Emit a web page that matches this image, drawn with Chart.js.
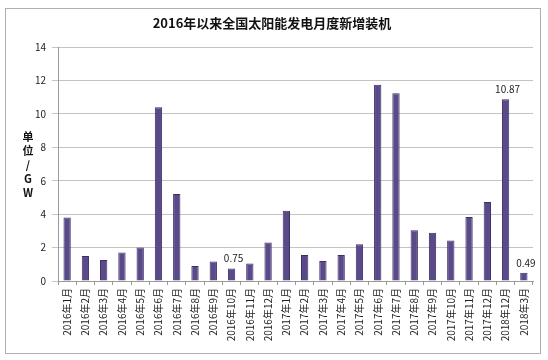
<!DOCTYPE html>
<html>
<head>
<meta charset="utf-8">
<script src="https://cdn.jsdelivr.net/npm/chart.js@4.4.0/dist/chart.umd.min.js"></script>
<style>
  html, body { margin: 0; padding: 0; background: #fff; }
  #wrap { width: 548px; height: 360px; position: relative; }
</style>
</head>
<body>
<div id="wrap"><canvas id="chart" width="548" height="360"></canvas></div>
<script>
// ------------------------
// Data
// ------------------------
const months = [
    '2016年1月', '2016年2月', '2016年3月', '2016年4月', '2016年5月', '2016年6月',
    '2016年7月', '2016年8月', '2016年9月', '2016年10月', '2016年11月', '2016年12月',
    '2017年1月', '2017年2月', '2017年3月', '2017年4月', '2017年5月', '2017年6月',
    '2017年7月', '2017年8月', '2017年9月', '2017年10月', '2017年11月', '2017年12月',
    '2018年12月', '2018年3月'
];
const newCapacity = [
    3.8, 1.5, 1.25, 1.7, 2.0, 10.4, 5.2, 0.9, 1.17, 0.75, 1.05, 2.3,
    4.2, 1.55, 1.2, 1.55, 2.2, 11.74, 11.24, 3.03, 2.88, 2.43, 3.83, 4.72,
    10.87, 0.49
];
const labelledBars = [9, 24, 25];
const yTicks = [0, 2, 4, 6, 8, 10, 12, 14];

const CJK = '"Noto Sans CJK SC", "Noto Sans", sans-serif';

// ------------------------
// Plugins: frame, title, y-axis caption, value labels
// ------------------------
const decor = {
    id: 'decor',
    beforeDraw(chart) {
        const { ctx } = chart;
        ctx.save();
        ctx.fillStyle = '#fff';
        ctx.fillRect(0, 0, chart.width, chart.height);
        ctx.strokeStyle = '#b0b0b0';
        ctx.lineWidth = 1;
        ctx.strokeRect(5.5, 8.5, 535, 345);
        ctx.restore();
    },
    afterDraw(chart) {
        const { ctx } = chart;
        ctx.save();
        ctx.fillStyle = '#111';
        ctx.textAlign = 'center';
        ctx.textBaseline = 'middle';
        ctx.font = `bold 13px ${CJK}`;
        ctx.fillText('2016年以来全国太阳能发电月度新增装机', 272, 23);

        ctx.font = `bold 11px ${CJK}`;
        ['单', '位', '/', 'G', 'W'].forEach((ch, i) => {
            ctx.fillText(ch, 28, 137 + i * 14);
        });

        ctx.font = `10px ${CJK}`;
        ctx.fillStyle = '#222';
        ctx.textBaseline = 'bottom';
        const meta = chart.getDatasetMeta(0);
        labelledBars.forEach(i => {
            const bar = meta.data[i];
            ctx.fillText(newCapacity[i].toString(), bar.x + 2, bar.y - 5);
        });
        ctx.restore();
    }
};

new Chart(document.getElementById('chart'), {
    type: 'bar',
    data: {
        labels: months,
        datasets: [{
            data: newCapacity,
            backgroundColor: '#5b4a89',
            borderColor: '#3d2f66',
            borderWidth: 1,
            borderSkipped: 'bottom',
            categoryPercentage: 1,
            barPercentage: 0.4
        }]
    },
    options: {
        responsive: false,
        animation: false,
        layout: { padding: { top: 47, right: 15, left: 0, bottom: 0 } },
        plugins: {
            legend: { display: false },
            tooltip: { enabled: false }
        },
        scales: {
            x: {
                offset: true,
                grid: {
                    offset: true,
                    drawOnChartArea: false,
                    drawTicks: true,
                    tickLength: 4,
                    color: '#9a9a9a'
                },
                border: { color: '#9a9a9a' },
                ticks: {
                    minRotation: 90,
                    maxRotation: 90,
                    autoSkip: false,
                    padding: 3,
                    color: '#222',
                    font: { size: 10, family: CJK }
                },
                afterFit: s => { s.height = 79; }
            },
            y: {
                min: 0,
                max: 14,
                afterBuildTicks: s => { s.ticks = yTicks.map(v => ({ value: v })); },
                grid: {
                    color: '#c4c4c4',
                    tickLength: 6
                },
                border: { color: '#9a9a9a' },
                ticks: {
                    padding: 6,
                    color: '#222',
                    font: { size: 10, family: CJK }
                },
                afterFit: s => { s.width = 58; }
            }
        }
    },
    plugins: [decor]
});
</script>
</body>
</html>
